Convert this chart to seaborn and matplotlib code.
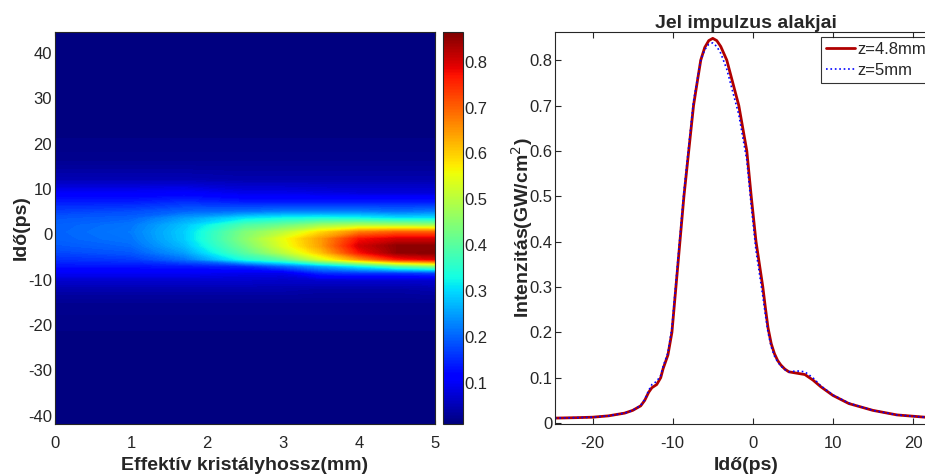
import numpy as np
import pandas as pd
import matplotlib
matplotlib.use("Agg")
import matplotlib.pyplot as plt
import seaborn as sns

# ---- heatmap data: intensity (GW/cm^2) vs effective crystal length and time
z_mm = [0, 1, 1.7, 2.5, 3, 3.5, 4, 4.5, 5]
t_grid = [-42, -30, -20, -15, -12, -10, -8.5, -7, -5.5, -4, -2.5, -1, 0.5,
          2, 3.5, 5, 7, 9, 12, 16, 20, 30, 45]
# one list per z column, values listed along t_grid
col_z0 = [0.01, 0.01, 0.015, 0.025, 0.045, 0.07, 0.10, 0.13, 0.155, 0.175, 0.19, 0.198,
          0.20, 0.198, 0.19, 0.17, 0.14, 0.105, 0.05, 0.025, 0.015, 0.01, 0.01]
col_z1 = [0.01, 0.01, 0.015, 0.025, 0.045, 0.07, 0.10, 0.13, 0.165, 0.19, 0.205, 0.215,
          0.22, 0.215, 0.20, 0.18, 0.14, 0.105, 0.05, 0.025, 0.015, 0.01, 0.01]
col_z17 = [0.01, 0.01, 0.015, 0.025, 0.045, 0.07, 0.10, 0.135, 0.21, 0.25, 0.275, 0.288,
           0.29, 0.28, 0.25, 0.20, 0.155, 0.11, 0.05, 0.025, 0.015, 0.01, 0.01]
col_z25 = [0.01, 0.01, 0.015, 0.025, 0.045, 0.07, 0.09, 0.15, 0.34, 0.40, 0.43, 0.45,
           0.44, 0.39, 0.31, 0.21, 0.14, 0.09, 0.045, 0.025, 0.015, 0.01, 0.01]
col_z3 = [0.01, 0.01, 0.015, 0.025, 0.045, 0.065, 0.09, 0.20, 0.40, 0.50, 0.54, 0.55,
          0.50, 0.42, 0.33, 0.22, 0.14, 0.09, 0.045, 0.025, 0.015, 0.01, 0.01]
col_z35 = [0.01, 0.01, 0.015, 0.025, 0.04, 0.07, 0.15, 0.26, 0.53, 0.61, 0.645, 0.645,
           0.59, 0.47, 0.34, 0.22, 0.14, 0.085, 0.045, 0.025, 0.015, 0.01, 0.01]
col_z4 = [0.01, 0.01, 0.015, 0.025, 0.04, 0.07, 0.16, 0.32, 0.65, 0.77, 0.80, 0.77,
          0.67, 0.49, 0.33, 0.22, 0.14, 0.08, 0.045, 0.025, 0.015, 0.01, 0.01]
col_z45 = [0.01, 0.01, 0.015, 0.025, 0.04, 0.07, 0.16, 0.40, 0.76, 0.85, 0.85, 0.80,
           0.70, 0.48, 0.31, 0.21, 0.14, 0.08, 0.045, 0.025, 0.015, 0.01, 0.01]
col_z5 = [0.01, 0.01, 0.015, 0.025, 0.045, 0.07, 0.17, 0.45, 0.79, 0.86, 0.85, 0.80,
          0.70, 0.47, 0.31, 0.22, 0.14, 0.08, 0.045, 0.025, 0.015, 0.01, 0.01]

# ---- pulse shapes (right panel)
t_ps = [-24.7, -22, -20, -18, -16, -15, -14, -13.5, -13, -12.6, -12, -11.5, -11.2, -10.6, -10.1,
        -9.6, -9.1, -8.6, -8.0, -7.4, -7.0, -6.5, -6, -5.5, -5, -4.5, -4, -3.25, -2.5, -1.75,
        -0.75, -0.2, 0.4, 1.25, 1.6, 1.9, 2.3, 2.7, 3.1, 3.5, 4.0, 4.5, 5.5, 6.5, 7.5, 8.5,
        10, 12, 15, 18, 21.5, 24]
I_z48 = [0.011, 0.012, 0.013, 0.016, 0.022, 0.028, 0.038, 0.05, 0.068, 0.078, 0.085, 0.10, 0.12, 0.15, 0.20,
         0.30, 0.40, 0.50, 0.60, 0.70, 0.745, 0.80, 0.828, 0.843, 0.848, 0.843, 0.83, 0.80, 0.75, 0.70,
         0.60, 0.50, 0.40, 0.30, 0.25, 0.21, 0.175, 0.153, 0.138, 0.128, 0.119, 0.113, 0.11, 0.107, 0.095, 0.08,
         0.061, 0.043, 0.028, 0.018, 0.013, 0.011]
I_z5 = [0.011, 0.012, 0.013, 0.016, 0.022, 0.028, 0.039, 0.052, 0.072, 0.085, 0.092, 0.105, 0.125, 0.155, 0.21,
        0.31, 0.41, 0.51, 0.61, 0.71, 0.75, 0.80, 0.823, 0.835, 0.838, 0.83, 0.815, 0.78, 0.73, 0.68,
        0.58, 0.48, 0.38, 0.28, 0.235, 0.20, 0.168, 0.148, 0.135, 0.126, 0.118, 0.113, 0.115, 0.113, 0.10, 0.082,
        0.062, 0.044, 0.028, 0.018, 0.013, 0.011]

legend_labels = ['z=4.8mm', 'z=5mm']

# =============================================
sns.set_style("ticks")
plt.rcParams['font.family'] = ['Liberation Sans', 'DejaVu Sans']
plt.rcParams['axes.unicode_minus'] = False
plt.rcParams['xtick.direction'] = 'in'
plt.rcParams['ytick.direction'] = 'in'
tickFontSize = 12
labelFontSize = 14
cmin, cmax = 0.01, 0.865

W, H = 925, 475
fig = plt.figure(figsize=(W / 100, H / 100), dpi=100)


def frac(x0, x1, ytop, ybot):
    return [x0 / W, 1 - ybot / H, (x1 - x0) / W, (ybot - ytop) / H]


ax1 = fig.add_axes(frac(55, 435, 32, 424))
cax = fig.add_axes(frac(443, 463, 32, 424))
ax2 = fig.add_axes(frac(555, 937, 32, 424))

# ---- left: heatmap (fine contour levels so it looks continuous)
field = np.array([col_z0, col_z1, col_z17, col_z25, col_z3, col_z35,
                  col_z4, col_z45, col_z5]).T
Z, T = np.meshgrid(z_mm, t_grid)
norm = matplotlib.colors.Normalize(vmin=cmin, vmax=cmax)
ax1.contourf(Z, T, field, levels=np.linspace(cmin - 0.001, cmax + 0.001, 160),
             cmap='jet', norm=norm, antialiased=False)
ax1.set_xlim(0, 5)
ax1.set_ylim(-41.8, 44.6)
ax1.set_xticks([0, 1, 2, 3, 4, 5])
ax1.set_yticks(np.arange(-40, 41, 10))
ax1.tick_params(labelsize=tickFontSize, length=3, top=True, right=True)
ax1.tick_params(axis='x', pad=9)
ax1.tick_params(axis='y', pad=2)
ax1.set_xlabel('Effektív kristályhossz(mm)', fontsize=labelFontSize, fontweight='bold', labelpad=4)
ax1.set_ylabel('Idő(ps)', fontsize=labelFontSize, fontweight='bold')
ax1.yaxis.set_label_coords(-25 / 380, 0.5)

sm = matplotlib.cm.ScalarMappable(norm=norm, cmap='jet')
cb = fig.colorbar(sm, cax=cax)
cb.set_ticks([0.1, 0.2, 0.3, 0.4, 0.5, 0.6, 0.7, 0.8])
cb.ax.tick_params(labelsize=tickFontSize, direction='in', length=3, left=True, right=True, pad=1)
cb.outline.set_linewidth(0.8)

# ---- right: pulse shapes
df = pd.DataFrame({'t': t_ps * 2,
                   'I': I_z48 + I_z5,
                   'z': [legend_labels[0]] * len(t_ps) + [legend_labels[1]] * len(t_ps)})
sns.lineplot(data=df[df['z'] == legend_labels[0]], x='t', y='I', ax=ax2,
             color='#b00000', linewidth=2, label=legend_labels[0])
sns.lineplot(data=df[df['z'] == legend_labels[1]], x='t', y='I', ax=ax2,
             color='blue', linewidth=1.2, linestyle=':', label=legend_labels[1])
ax2.set_xlim(-24.7, 23)
ax2.set_ylim(-0.002, 0.862)
ax2.set_xticks([-20, -10, 0, 10, 20])
ax2.set_yticks([0, 0.1, 0.2, 0.3, 0.4, 0.5, 0.6, 0.7, 0.8])
ax2.set_yticklabels(['0', '0.1', '0.2', '0.3', '0.4', '0.5', '0.6', '0.7', '0.8'])
ax2.tick_params(labelsize=tickFontSize, length=4, top=True, right=True)
ax2.tick_params(axis='x', pad=9)
ax2.tick_params(axis='y', pad=2)
ax2.set_title('Jel impulzus alakjai', fontsize=labelFontSize, fontweight='bold', pad=3)
ax2.set_xlabel('Idő(ps)', fontsize=labelFontSize, fontweight='bold', labelpad=4)
ax2.set_ylabel('Intenzitás(GW/cm$^2$)', fontsize=labelFontSize, fontweight='bold')
ax2.yaxis.set_label_coords(-20 / 382, 0.5)
for s in list(ax2.spines.values()) + list(ax1.spines.values()):
    s.set_linewidth(0.8)

leg = ax2.legend(loc='upper left', bbox_to_anchor=(821 / W, 1 - 37 / H),
                 bbox_transform=fig.transFigure, frameon=True, fancybox=False,
                 fontsize=12, handlelength=1.75, handletextpad=0.15, borderpad=0.3,
                 labelspacing=0.35, borderaxespad=0)
leg.get_frame().set_edgecolor('black')
leg.get_frame().set_linewidth(0.8)

fig.savefig('out.png', dpi=100)
